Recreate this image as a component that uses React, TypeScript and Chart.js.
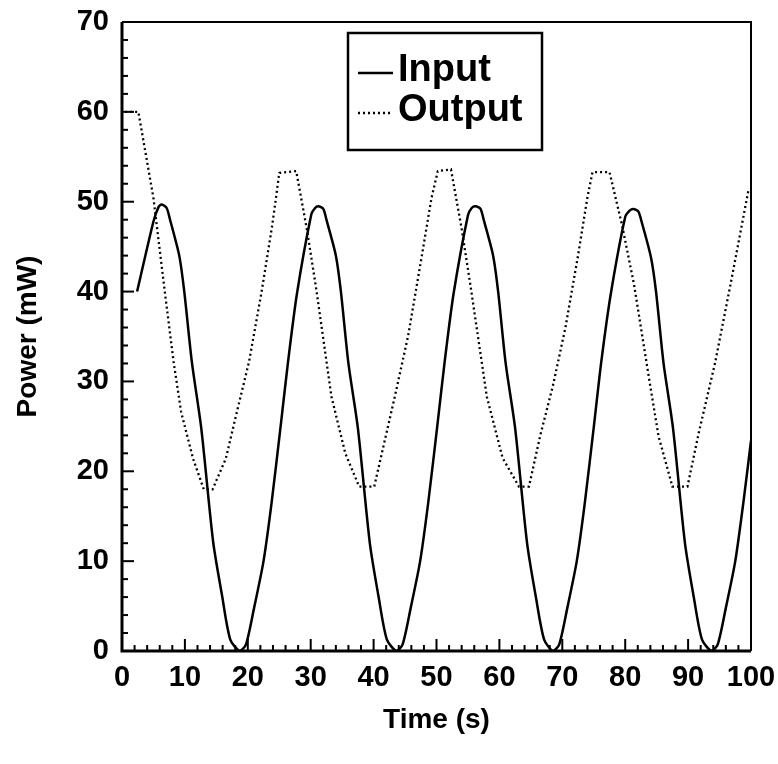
import React, { useEffect, useRef } from "react";
import { Chart, registerables } from "chart.js";

Chart.register(...registerables);

// ---- Data ----
const inputTime = [
  2.4, 5.0, 5.8, 6.3, 7.1, 7.6, 9.1, 9.9, 11.1, 12.6, 14.5, 15.9, 17.2, 18.7, 19.7, 21.0, 22.5, 23.8, 25.3, 26.4, 27.8,
  30.1, 30.7, 31.2, 32.0, 32.5, 34.0, 34.8, 36.0, 37.5, 39.4, 40.8, 42.1, 43.6, 44.6, 45.9, 47.4, 48.7, 50.2, 51.3, 52.7,
  55.0, 55.6, 56.2, 57.0, 57.5, 59.0, 59.8, 61.0, 62.5, 64.4, 65.8, 67.1, 68.5, 69.5, 70.8, 72.3, 73.6, 75.1, 76.2, 77.7,
  80.0, 80.7, 81.3, 82.1, 82.6, 84.1, 84.9, 86.1, 87.6, 89.5, 90.9, 92.2, 93.7, 94.7, 96.0, 97.5, 98.8, 100,
];
const inputPower = [
  40, 47.8, 49.4, 49.7, 49.3, 48.1, 44, 40, 32.2, 24.8, 12.1, 6.2, 1.3, 0, 0.7, 4.8, 10, 16.6, 25.5, 32.2, 39.7,
  48.6, 49.3, 49.5, 49.2, 48, 44, 40, 32, 24.8, 12, 6, 1.3, 0, 0.7, 4.8, 10, 16.6, 25.5, 32.2, 39.7,
  48.5, 49.3, 49.5, 49.2, 48, 44, 40, 32, 24.8, 12, 6, 1.3, 0, 0.7, 4.8, 10, 16.6, 25.5, 32.2, 39.7,
  48.3, 49, 49.2, 48.9, 47.8, 43.8, 40, 32, 24.8, 12, 6, 1.3, 0, 0.7, 4.8, 10, 16.6, 23.4,
];
const outputTime = [
  0.5, 2.6, 5.0, 6.8, 8.2, 9.4, 11.3, 13.0, 14.4, 16.5, 18.4, 20.2, 22.2, 23.8, 24.4, 25.0, 27.7, 29.4, 30.9, 33.3,
  35.5, 37.7, 40.1, 43.4, 45.5, 47.6, 49.2, 50.2, 52.3, 54.0, 55.5, 58.0, 60.5, 63.1, 64.7, 66.5, 68.5, 70.5, 72.5,
  74.0, 74.8, 77.5, 79.5, 81.4, 83.8, 85.3, 87.5, 89.9, 91.7, 94.3, 96.8, 99.6,
];
const outputPower = [
  60, 60, 50.4, 40, 32.2, 26.6, 21.4, 18, 18, 21.4, 27, 32.2, 40, 47, 50, 53.2, 53.4, 46.9, 40.2, 28.3,
  22, 18.3, 18.3, 28.4, 35.1, 43.7, 50.4, 53.4, 53.6, 47, 40.2, 28.3, 21.5, 18.3, 18.3, 24, 29.5, 36, 44,
  50.5, 53.3, 53.3, 47.4, 40.8, 30.3, 23.9, 18.3, 18.3, 24.3, 32.1, 41, 51.3,
];
const seriesLabels = ["Input", "Output"];
const xTickValues = [0, 10, 20, 30, 40, 50, 60, 70, 80, 90, 100];
const yTickValues = [0, 10, 20, 30, 40, 50, 60, 70];
const xMinorStep = 2;
const yMinorStep = 2;
const xTitle = "Time (s)";
const yTitle = "Power (mW)";

const FONT = "'Liberation Sans', Arial, Helvetica, sans-serif";

const frameAndTicks = {
  id: "frameAndTicks",
  afterDraw(chart: any) {
    const { ctx, chartArea } = chart;
    const xs = chart.scales.x;
    const ys = chart.scales.y;
    ctx.save();
    ctx.strokeStyle = "#000";
    ctx.lineWidth = 2;
    ctx.beginPath();
    ctx.moveTo(chartArea.left, chartArea.top);
    ctx.lineTo(chartArea.right, chartArea.top);
    ctx.lineTo(chartArea.right, chartArea.bottom);
    ctx.stroke();
    ctx.lineWidth = 3;
    ctx.beginPath();
    ctx.moveTo(chartArea.left, chartArea.top);
    ctx.lineTo(chartArea.left, chartArea.bottom);
    ctx.lineTo(chartArea.right, chartArea.bottom);
    ctx.stroke();
    ctx.lineWidth = 2;
    const xMax = xTickValues[xTickValues.length - 1];
    for (let v = xTickValues[0]; v <= xMax; v += xMinorStep) {
      const p = xs.getPixelForValue(v);
      const len = xTickValues.includes(v) ? 12 : 6;
      ctx.beginPath();
      ctx.moveTo(p, chartArea.bottom);
      ctx.lineTo(p, chartArea.bottom - len);
      ctx.stroke();
    }
    const yMax = yTickValues[yTickValues.length - 1];
    for (let v = yTickValues[0]; v <= yMax; v += yMinorStep) {
      const p = ys.getPixelForValue(v);
      const len = yTickValues.includes(v) ? 12 : 6;
      ctx.beginPath();
      ctx.moveTo(chartArea.left, p);
      ctx.lineTo(chartArea.left + len, p);
      ctx.stroke();
    }
    ctx.restore();
  },
};

const boxLegend = {
  id: "boxLegend",
  afterDraw(chart: any) {
    const { ctx, chartArea } = chart;
    const left = chartArea.left + 226;
    const top = chartArea.top + 11;
    const w = 194;
    const h = 117;
    ctx.save();
    ctx.fillStyle = "#fff";
    ctx.fillRect(left, top, w, h);
    ctx.strokeStyle = "#000";
    ctx.lineWidth = 2.5;
    ctx.strokeRect(left, top, w, h);
    ctx.font = `bold 38px ${FONT}`;
    ctx.textBaseline = "middle";
    ctx.fillStyle = "#000";
    chart.data.datasets.forEach((ds: any, i: number) => {
      const cy = top + 38 + i * 40;
      ctx.beginPath();
      ctx.lineWidth = ds.borderWidth;
      ctx.setLineDash(ds.borderDash || []);
      ctx.moveTo(left + 10, cy + 2);
      ctx.lineTo(left + 45, cy + 2);
      ctx.stroke();
      ctx.setLineDash([]);
      ctx.fillText(ds.label, left + 50, cy);
    });
    ctx.restore();
  },
};

export default function App() {
  const ref = useRef<HTMLCanvasElement | null>(null);
  useEffect(() => {
    if (!ref.current) return;
    const chart = new Chart(ref.current, {
      type: "line",
      data: {
        datasets: [
          {
            label: seriesLabels[0],
            data: inputTime.map((t, i) => ({ x: t, y: inputPower[i] })),
            borderColor: "#000",
            borderWidth: 2.5,
            pointRadius: 0,
            fill: false,
            tension: 0.25,
          },
          {
            label: seriesLabels[1],
            data: outputTime.map((t, i) => ({ x: t, y: outputPower[i] })),
            borderColor: "#000",
            borderWidth: 2.3,
            borderDash: [2, 3],
            pointRadius: 0,
            fill: false,
            tension: 0,
          },
        ],
      },
      options: {
        responsive: false,
        animation: false,
        layout: { padding: { left: 0, right: 27, top: 22, bottom: 0 } },
        plugins: { legend: { display: false }, tooltip: { enabled: false } },
        scales: {
          x: {
            type: "linear",
            min: 0,
            max: 100,
            afterFit: (s: any) => {
              s.height = 113;
              s.paddingLeft = 0;
              s.paddingRight = 0;
            },
            afterBuildTicks: (s: any) => {
              s.ticks = xTickValues.map((v) => ({ value: v }));
            },
            grid: { display: false, drawTicks: false },
            border: { display: false },
            ticks: {
              color: "#000",
              font: { family: FONT, size: 29, weight: "bold" },
              padding: 10,
              maxRotation: 0,
              autoSkip: false,
            },
            title: {
              display: true,
              text: xTitle,
              color: "#000",
              font: { family: FONT, size: 28, weight: "bold" },
              padding: { top: 0, bottom: 27 },
            },
          },
          y: {
            type: "linear",
            min: 0,
            max: 70,
            afterFit: (s: any) => {
              s.width = 122;
              s.paddingTop = 0;
              s.paddingBottom = 0;
            },
            afterBuildTicks: (s: any) => {
              s.ticks = yTickValues.map((v) => ({ value: v }));
            },
            grid: { display: false, drawTicks: false },
            border: { display: false },
            ticks: {
              color: "#000",
              font: { family: FONT, size: 29, weight: "bold" },
              padding: 13,
              autoSkip: false,
            },
            title: {
              display: true,
              text: yTitle,
              color: "#000",
              font: { family: FONT, size: 28, weight: "bold" },
              padding: { top: 11, bottom: 0 },
            },
          },
        },
      },
      plugins: [frameAndTicks, boxLegend],
    });
    return () => chart.destroy();
  }, []);
  return (
    <div style={{ position: "fixed", left: 0, top: 0, width: 778, height: 764, background: "#fff" }}>
      <canvas ref={ref} width={778} height={764} style={{ width: 778, height: 764, display: "block" }} />
    </div>
  );
}
